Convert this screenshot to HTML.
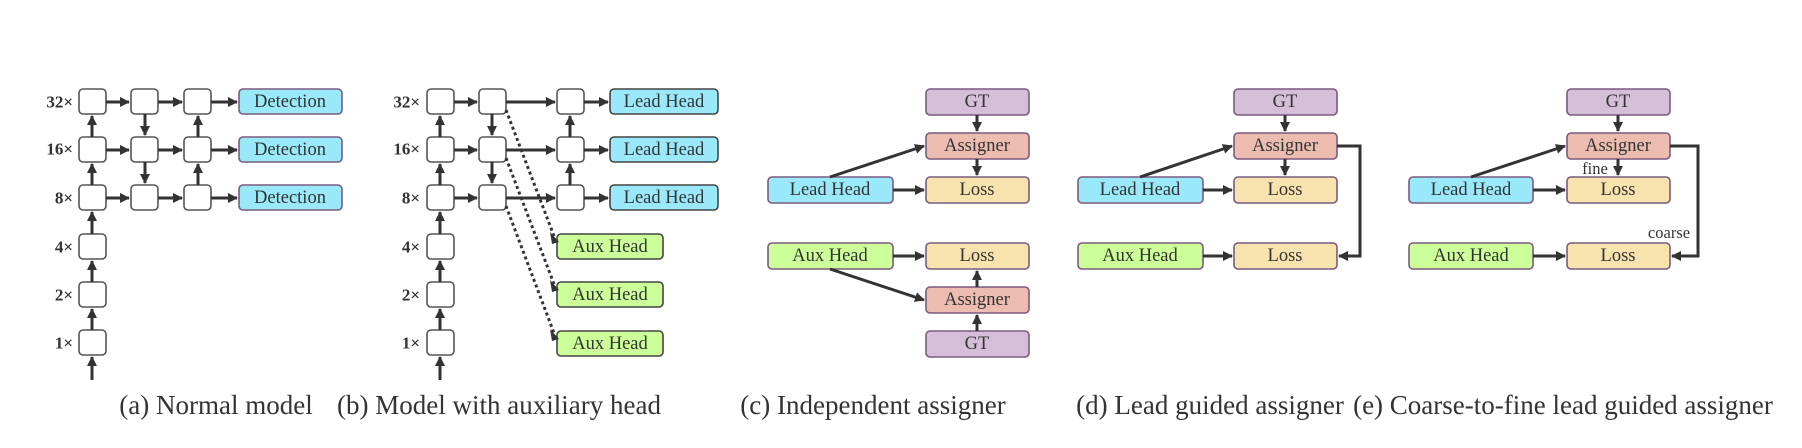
<!DOCTYPE html>
<html><head><meta charset="utf-8"><style>
html,body{margin:0;padding:0;background:#fff;}
svg{display:block;}
text{font-family:"Liberation Serif",serif;fill:#333;}
.bt{font-size:18.5px;text-anchor:middle;dominant-baseline:central;}
.lb{font-size:17px;font-weight:bold;text-anchor:end;dominant-baseline:central;}
.cap{font-size:27px;text-anchor:middle;}
.ln{stroke:#333;stroke-width:3;fill:none;}
.sb{fill:#fff;stroke:#555;stroke-width:1.6;}
</style></head><body>
<svg width="1802" height="448" viewBox="0 0 1802 448" xmlns="http://www.w3.org/2000/svg">
<defs>
<marker id="a" viewBox="0 0 10 10" refX="9" refY="5" markerWidth="10" markerHeight="10" markerUnits="userSpaceOnUse" orient="auto"><path d="M0,0 L10,5 L0,10 z" fill="#333"/></marker>
</defs>

<!-- (a) -->
<g>
<text class="lb" x="73" y="102">32×</text><text class="lb" x="73" y="149">16×</text><text class="lb" x="73" y="198">8×</text>
<text class="lb" x="73" y="247">4×</text><text class="lb" x="73" y="295">2×</text><text class="lb" x="73" y="343">1×</text>
<rect class="sb" x="79" y="89" width="27" height="25" rx="4"/>
<rect class="sb" x="79" y="137" width="27" height="25" rx="4"/>
<rect class="sb" x="79" y="185" width="27" height="25" rx="4"/>
<rect class="sb" x="79" y="234" width="27" height="25" rx="4"/>
<rect class="sb" x="79" y="282" width="27" height="25" rx="4"/>
<rect class="sb" x="79" y="330" width="27" height="25" rx="4"/>
<rect class="sb" x="131" y="89" width="27" height="25" rx="4"/>
<rect class="sb" x="131" y="137" width="27" height="25" rx="4"/>
<rect class="sb" x="131" y="185" width="27" height="25" rx="4"/>
<rect class="sb" x="184" y="89" width="27" height="25" rx="4"/>
<rect class="sb" x="184" y="137" width="27" height="25" rx="4"/>
<rect class="sb" x="184" y="185" width="27" height="25" rx="4"/>
<rect x="239" y="89" width="103" height="25" rx="4" fill="#99e9fb" stroke="#7a5a80" stroke-width="1.6"/>
<rect x="239" y="137" width="103" height="25" rx="4" fill="#99e9fb" stroke="#7a5a80" stroke-width="1.6"/>
<rect x="239" y="185" width="103" height="25" rx="4" fill="#99e9fb" stroke="#7a5a80" stroke-width="1.6"/>
<text class="bt" x="290" y="102">Detection</text><text class="bt" x="290" y="150">Detection</text><text class="bt" x="290" y="198">Detection</text>
<line class="ln" x1="92" y1="380" x2="92" y2="357" marker-end="url(#a)"/>
<line class="ln" x1="92" y1="330" x2="92" y2="309" marker-end="url(#a)"/>
<line class="ln" x1="92" y1="282" x2="92" y2="261" marker-end="url(#a)"/>
<line class="ln" x1="92" y1="234" x2="92" y2="212" marker-end="url(#a)"/>
<line class="ln" x1="92" y1="185" x2="92" y2="164" marker-end="url(#a)"/>
<line class="ln" x1="92" y1="137" x2="92" y2="116" marker-end="url(#a)"/>
<line class="ln" x1="145" y1="114" x2="145" y2="135" marker-end="url(#a)"/>
<line class="ln" x1="145" y1="162" x2="145" y2="183" marker-end="url(#a)"/>
<line class="ln" x1="198" y1="185" x2="198" y2="164" marker-end="url(#a)"/>
<line class="ln" x1="198" y1="137" x2="198" y2="116" marker-end="url(#a)"/>
<line class="ln" x1="106" y1="102" x2="129" y2="102" marker-end="url(#a)"/>
<line class="ln" x1="158" y1="102" x2="182" y2="102" marker-end="url(#a)"/>
<line class="ln" x1="211" y1="102" x2="237" y2="102" marker-end="url(#a)"/>
<line class="ln" x1="106" y1="150" x2="129" y2="150" marker-end="url(#a)"/>
<line class="ln" x1="158" y1="150" x2="182" y2="150" marker-end="url(#a)"/>
<line class="ln" x1="211" y1="150" x2="237" y2="150" marker-end="url(#a)"/>
<line class="ln" x1="106" y1="198" x2="129" y2="198" marker-end="url(#a)"/>
<line class="ln" x1="158" y1="198" x2="182" y2="198" marker-end="url(#a)"/>
<line class="ln" x1="211" y1="198" x2="237" y2="198" marker-end="url(#a)"/>
<text class="cap" x="216" y="414">(a) Normal model</text>
</g>

<!-- (b) -->
<g>
<text class="lb" x="420" y="102">32×</text><text class="lb" x="420" y="149">16×</text><text class="lb" x="420" y="198">8×</text>
<text class="lb" x="420" y="247">4×</text><text class="lb" x="420" y="295">2×</text><text class="lb" x="420" y="343">1×</text>
<rect class="sb" x="427" y="89" width="27" height="25" rx="4"/>
<rect class="sb" x="427" y="137" width="27" height="25" rx="4"/>
<rect class="sb" x="427" y="185" width="27" height="25" rx="4"/>
<rect class="sb" x="427" y="234" width="27" height="25" rx="4"/>
<rect class="sb" x="427" y="282" width="27" height="25" rx="4"/>
<rect class="sb" x="427" y="330" width="27" height="25" rx="4"/>
<rect class="sb" x="479" y="89" width="27" height="25" rx="4"/>
<rect class="sb" x="479" y="137" width="27" height="25" rx="4"/>
<rect class="sb" x="479" y="185" width="27" height="25" rx="4"/>
<rect class="sb" x="557" y="89" width="27" height="25" rx="4"/>
<rect class="sb" x="557" y="137" width="27" height="25" rx="4"/>
<rect class="sb" x="557" y="185" width="27" height="25" rx="4"/>
<rect x="610" y="89" width="108" height="25" rx="4" fill="#99e9fb" stroke="#444" stroke-width="1.6"/>
<rect x="610" y="137" width="108" height="25" rx="4" fill="#99e9fb" stroke="#444" stroke-width="1.6"/>
<rect x="610" y="185" width="108" height="25" rx="4" fill="#99e9fb" stroke="#444" stroke-width="1.6"/>
<text class="bt" x="664" y="102">Lead Head</text><text class="bt" x="664" y="150">Lead Head</text><text class="bt" x="664" y="198">Lead Head</text>
<rect x="557" y="234" width="106" height="25" rx="4" fill="#ccff99" stroke="#444" stroke-width="1.6"/>
<rect x="557" y="282" width="106" height="25" rx="4" fill="#ccff99" stroke="#444" stroke-width="1.6"/>
<rect x="557" y="331" width="106" height="25" rx="4" fill="#ccff99" stroke="#444" stroke-width="1.6"/>
<text class="bt" x="610" y="247">Aux Head</text><text class="bt" x="610" y="295">Aux Head</text><text class="bt" x="610" y="344">Aux Head</text>
<line class="ln" x1="440" y1="380" x2="440" y2="357" marker-end="url(#a)"/>
<line class="ln" x1="440" y1="330" x2="440" y2="309" marker-end="url(#a)"/>
<line class="ln" x1="440" y1="282" x2="440" y2="261" marker-end="url(#a)"/>
<line class="ln" x1="440" y1="234" x2="440" y2="212" marker-end="url(#a)"/>
<line class="ln" x1="440" y1="185" x2="440" y2="164" marker-end="url(#a)"/>
<line class="ln" x1="440" y1="137" x2="440" y2="116" marker-end="url(#a)"/>
<line class="ln" x1="492" y1="114" x2="492" y2="135" marker-end="url(#a)"/>
<line class="ln" x1="492" y1="162" x2="492" y2="183" marker-end="url(#a)"/>
<line class="ln" x1="570" y1="185" x2="570" y2="164" marker-end="url(#a)"/>
<line class="ln" x1="570" y1="137" x2="570" y2="116" marker-end="url(#a)"/>
<line class="ln" x1="454" y1="102" x2="477" y2="102" marker-end="url(#a)"/>
<line class="ln" x1="506" y1="102" x2="555" y2="102" marker-end="url(#a)"/>
<line class="ln" x1="584" y1="102" x2="608" y2="102" marker-end="url(#a)"/>
<line class="ln" x1="454" y1="150" x2="477" y2="150" marker-end="url(#a)"/>
<line class="ln" x1="506" y1="150" x2="555" y2="150" marker-end="url(#a)"/>
<line class="ln" x1="584" y1="150" x2="608" y2="150" marker-end="url(#a)"/>
<line class="ln" x1="454" y1="198" x2="477" y2="198" marker-end="url(#a)"/>
<line class="ln" x1="506" y1="198" x2="555" y2="198" marker-end="url(#a)"/>
<line class="ln" x1="584" y1="198" x2="608" y2="198" marker-end="url(#a)"/>
<g stroke="#333" stroke-width="3" stroke-dasharray="3,3" fill="none">
<line x1="506" y1="110" x2="554" y2="236"/>
<line x1="506" y1="158" x2="554" y2="284"/>
<line x1="506" y1="206" x2="554" y2="333"/>
</g>
<path d="M550,232 L559,242 L552,244 z" fill="#333"/>
<path d="M550,280 L559,290 L552,292 z" fill="#333"/>
<path d="M550,329 L559,339 L552,341 z" fill="#333"/>
<text class="cap" x="499" y="414">(b) Model with auxiliary head</text>
</g>

<!-- (c) -->
<g stroke="#7a5a80" stroke-width="1.6">
<rect x="926" y="89" width="103" height="26" rx="4" fill="#d5bfd8"/>
<rect x="926" y="133" width="103" height="26" rx="4" fill="#ecbcb0"/>
<rect x="926" y="177" width="103" height="26" rx="4" fill="#f8e2ad"/>
<rect x="768" y="177" width="125" height="26" rx="4" fill="#99e9fb"/>
<rect x="768" y="243" width="125" height="26" rx="4" fill="#ccff99"/>
<rect x="926" y="243" width="103" height="26" rx="4" fill="#f8e2ad"/>
<rect x="926" y="287" width="103" height="26" rx="4" fill="#ecbcb0"/>
<rect x="926" y="331" width="103" height="26" rx="4" fill="#d5bfd8"/>
</g>
<text class="bt" x="977" y="102">GT</text><text class="bt" x="977" y="146">Assigner</text><text class="bt" x="977" y="190">Loss</text>
<text class="bt" x="830" y="190">Lead Head</text><text class="bt" x="830" y="256">Aux Head</text>
<text class="bt" x="977" y="256">Loss</text><text class="bt" x="977" y="300">Assigner</text><text class="bt" x="977" y="344">GT</text>
<line class="ln" x1="977" y1="115" x2="977" y2="131" marker-end="url(#a)"/>
<line class="ln" x1="977" y1="159" x2="977" y2="175" marker-end="url(#a)"/>
<line class="ln" x1="893" y1="190" x2="924" y2="190" marker-end="url(#a)"/>
<line class="ln" x1="830" y1="177" x2="924" y2="146" marker-end="url(#a)"/>
<line class="ln" x1="893" y1="256" x2="924" y2="256" marker-end="url(#a)"/>
<line class="ln" x1="830" y1="269" x2="924" y2="300" marker-end="url(#a)"/>
<line class="ln" x1="977" y1="287" x2="977" y2="271" marker-end="url(#a)"/>
<line class="ln" x1="977" y1="331" x2="977" y2="315" marker-end="url(#a)"/>
<text class="cap" x="873" y="414">(c) Independent assigner</text>

<!-- (d) -->
<g stroke="#7a5a80" stroke-width="1.6">
<rect x="1234" y="89" width="103" height="26" rx="4" fill="#d5bfd8"/>
<rect x="1234" y="133" width="103" height="26" rx="4" fill="#ecbcb0"/>
<rect x="1234" y="177" width="103" height="26" rx="4" fill="#f8e2ad"/>
<rect x="1078" y="177" width="125" height="26" rx="4" fill="#99e9fb"/>
<rect x="1078" y="243" width="125" height="26" rx="4" fill="#ccff99"/>
<rect x="1234" y="243" width="103" height="26" rx="4" fill="#f8e2ad"/>
</g>
<text class="bt" x="1285" y="102">GT</text><text class="bt" x="1285" y="146">Assigner</text><text class="bt" x="1285" y="190">Loss</text>
<text class="bt" x="1140" y="190">Lead Head</text><text class="bt" x="1140" y="256">Aux Head</text><text class="bt" x="1285" y="256">Loss</text>
<line class="ln" x1="1285" y1="115" x2="1285" y2="131" marker-end="url(#a)"/>
<line class="ln" x1="1285" y1="159" x2="1285" y2="175" marker-end="url(#a)"/>
<line class="ln" x1="1203" y1="190" x2="1232" y2="190" marker-end="url(#a)"/>
<line class="ln" x1="1140" y1="177" x2="1232" y2="146" marker-end="url(#a)"/>
<line class="ln" x1="1203" y1="256" x2="1232" y2="256" marker-end="url(#a)"/>
<polyline class="ln" points="1337,146 1360,146 1360,256 1339,256" marker-end="url(#a)"/>

<!-- (e) -->
<g stroke="#7a5a80" stroke-width="1.6">
<rect x="1567" y="89" width="103" height="26" rx="4" fill="#d5bfd8"/>
<rect x="1567" y="133" width="103" height="26" rx="4" fill="#ecbcb0"/>
<rect x="1567" y="177" width="103" height="26" rx="4" fill="#f8e2ad"/>
<rect x="1409" y="177" width="124" height="26" rx="4" fill="#99e9fb"/>
<rect x="1409" y="243" width="124" height="26" rx="4" fill="#ccff99"/>
<rect x="1567" y="243" width="103" height="26" rx="4" fill="#f8e2ad"/>
</g>
<text class="bt" x="1618" y="102">GT</text><text class="bt" x="1618" y="146">Assigner</text><text class="bt" x="1618" y="190">Loss</text>
<text class="bt" x="1471" y="190">Lead Head</text><text class="bt" x="1471" y="256">Aux Head</text><text class="bt" x="1618" y="256">Loss</text>
<line class="ln" x1="1618" y1="115" x2="1618" y2="131" marker-end="url(#a)"/>
<line class="ln" x1="1618" y1="159" x2="1618" y2="175" marker-end="url(#a)"/>
<line class="ln" x1="1533" y1="190" x2="1565" y2="190" marker-end="url(#a)"/>
<line class="ln" x1="1471" y1="177" x2="1565" y2="146" marker-end="url(#a)"/>
<line class="ln" x1="1533" y1="256" x2="1565" y2="256" marker-end="url(#a)"/>
<polyline class="ln" points="1670,146 1698,146 1698,256 1672,256" marker-end="url(#a)"/>
<text x="1595" y="174" font-size="16.5" text-anchor="middle">fine</text>
<text x="1669" y="238" font-size="16.5" text-anchor="middle">coarse</text>
<text class="cap" x="1210" y="414">(d) Lead guided assigner</text>
<text class="cap" x="1563" y="414">(e) Coarse-to-fine lead guided assigner</text>
</svg>
</body></html>
